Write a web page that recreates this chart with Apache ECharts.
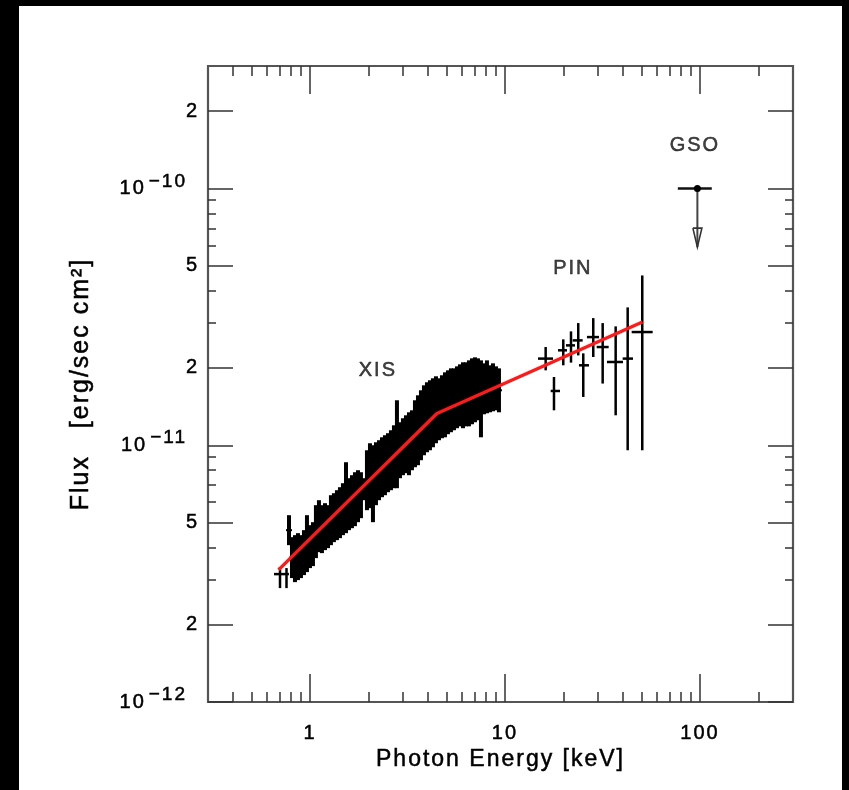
<!DOCTYPE html>
<html>
<head>
<meta charset="utf-8">
<title>Flux spectrum</title>
<script src="https://cdn.jsdelivr.net/npm/echarts@6/dist/echarts.min.js"></script>
<style>
html,body{margin:0;padding:0;background:#000;width:849px;height:790px;overflow:hidden;}
#main{position:absolute;left:19px;top:6px;width:823px;height:784px;background:#fff;}
</style>
</head>
<body>
<div id="main"></div>
<script>
// flux values are in units of 1e-12 erg/sec/cm2, energies in keV
var UNIT = 1e-12;

// XIS spectrum (bin centre, flux, lower / upper end of error bar)
var xisE = [0.7805,0.8085,0.8377,0.8679,0.8992,0.9316,0.9652,1.000,1.036,1.073,1.112,1.152,1.194,1.237,1.281,1.327,1.375,1.425,1.476,1.530,1.585,1.642,1.701,1.763,1.826,1.892,1.960,2.031,2.104,2.180,2.259,2.340,2.424,2.512,2.602,2.696,2.793,2.894,2.998,3.107,3.219,3.335,3.455,3.580,3.709,3.842,3.981,4.124,4.273,4.427,4.587,4.752,4.924,5.101,5.285,5.476,5.673,5.878,6.090,6.310,6.537,6.773,7.017,7.270,7.532,7.804,8.085,8.377,8.679,8.992,9.316];
var xisF = [4.670,3.650,3.617,3.683,3.683,3.817,4.137,4.028,4.119,4.608,4.840,4.712,4.818,4.818,5.107,5.223,5.341,5.462,5.636,6.248,5.894,6.028,6.164,6.334,6.389,6.742,7.308,7.609,7.083,7.746,7.993,8.211,8.360,8.550,8.744,9.021,10.09,9.561,9.867,10.09,10.14,10.46,11.09,11.44,11.96,12.51,12.85,13.08,13.38,13.75,13.81,14.12,14.38,14.70,14.97,15.10,15.38,15.65,15.65,15.79,15.93,16.23,16.44,16.51,15.17,16.59,16.89,16.59,16.81,16.67,16.37];
var xisLo = [4.082,3.038,2.930,2.984,3.038,3.121,3.206,3.323,3.383,3.634,3.834,3.800,3.904,3.974,4.082,4.194,4.270,4.347,4.465,4.546,4.670,4.753,4.840,5.016,5.200,6.109,5.586,5.688,5.016,5.842,6.109,6.276,6.389,6.563,6.682,6.803,6.803,7.441,7.644,7.783,7.644,7.993,8.211,8.360,8.744,9.142,9.392,9.561,9.822,10.18,10.46,10.65,10.74,11.04,11.24,11.44,11.65,11.85,11.65,11.85,11.85,12.07,12.29,12.51,10.74,13.20,13.32,13.44,13.56,13.68,13.44];
var xisHi = [5.341,4.385,4.465,4.546,4.465,4.670,5.341,4.883,5.016,5.842,6.109,5.842,5.948,5.842,6.389,6.504,6.682,6.864,7.115,8.588,7.441,7.644,7.851,7.993,7.851,7.441,9.561,10.18,10.00,10.27,10.46,10.74,10.94,11.14,11.44,11.96,14.97,12.29,12.74,13.08,13.44,13.68,14.97,15.65,16.37,17.12,17.59,17.91,18.23,18.56,18.23,18.73,19.23,19.58,19.93,19.93,20.29,20.66,21.04,21.04,21.41,21.80,22.00,21.80,21.41,20.85,21.41,20.48,20.85,20.29,19.93];

// the two lowest XIS bins, drawn as separate crosses
var xisLowE = [0.702, 0.758];
var xisLowElo = [0.654, 0.736];
var xisLowEhi = [0.736, 0.780];
var xisLowF = [3.149, 3.149];
var xisLowFlo = [2.777, 2.777];
var xisLowFhi = [3.353, 3.323];

// HXD-PIN
var pinE = [16.17,17.84,19.91,21.81,23.76,25.21,28.37,31.70,36.96,42.59,50.6];
var pinElo = [14.77,17.16,18.70,20.55,22.24,23.96,26.33,29.53,33.35,40.15,44.64];
var pinEhi = [17.63,19.15,20.80,22.86,25.03,26.97,30.35,34.03,40.29,45.34,57.21];
var pinF = [21.75,16.27,23.43,24.49,25.61,20.48,26.38,24.13,21.10,21.75,27.60];
var pinFlo = [19.58,13.68,20.48,20.98,22.39,15.42,22.06,17.39,13.08,9.56,9.56];
var pinFhi = [24.13,18.44,25.85,27.77,29.91,22.80,31.28,29.91,29.04,34.43,45.86];

// HXD-GSO upper limit: [E, Elo, Ehi, F, arrow tip]
var gsoLimit = [97, 77, 115, 100, 59.1];

// broken power law model
var modelE = [0.69, 4.48, 50.7];
var modelF = [3.27, 13.3, 30.2];

// labels of the instruments
var tagNames = ['XIS', 'PIN', 'GSO'];
var tagE = [2.23, 22.3, 94.2];
var tagF = [19.6, 48.8, 147];

// axis ticks
var xMajor = [1, 10, 100];
var xMinor = [0.4,0.5,0.6,0.7,0.8,0.9,2,3,4,5,6,7,8,9,20,30,40,50,60,70,80,90,200];
var yMajor = [1e-12,2e-12,5e-12,1e-11,2e-11,5e-11,1e-10,2e-10];
var yMinor = [3e-12,4e-12,6e-12,7e-12,8e-12,9e-12,3e-11,4e-11,6e-11,7e-11,8e-11,9e-11];

// loose lettering like the original plot package
var ctxProto = CanvasRenderingContext2D.prototype;
var rawFillText = ctxProto.fillText, rawStrokeText = ctxProto.strokeText;
ctxProto.fillText = function () {
	this.letterSpacing = '2px';
	return rawFillText.apply(this, arguments);
};
ctxProto.strokeText = function () {
	this.letterSpacing = '2px';
	return rawStrokeText.apply(this, arguments);
};

var lg = Math.log10;
var FONT = 'Liberation Sans';
var INK = '#000';
// a thin outline makes the lettering a bit heavier
var heavy = {textBorderColor: '#000', textBorderWidth: 0.5};
var xMin = lg(0.3), xMax = lg(300);
var yMin = lg(1e-12), yMax = lg(3e-10);

function xAxisDef(pos, ticks, len, withLabel) {
	var ax = {
		type: 'value', position: pos, min: xMin, max: xMax,
		axisLine: {show: false, onZero: false}, splitLine: {show: false},
		axisTick: {show: true, inside: true, length: len, customValues: ticks.map(lg),
			lineStyle: {color: '#333', width: 1.5}},
		axisLabel: {show: false}
	};
	if (withLabel) {
		ax.axisLabel = echarts.util.extend({show: true, customValues: ticks.map(lg), margin: 21,
			fontFamily: FONT, fontSize: 20, color: INK,
			formatter: function (v) { return String(Math.round(Math.pow(10, v))); }}, heavy);
		ax.name = 'Photon Energy [keV]';
		ax.nameLocation = 'middle';
		ax.nameGap = 46;
		ax.nameTextStyle = echarts.util.extend({fontFamily: FONT, fontSize: 23, color: INK}, heavy);
	}
	return ax;
}

function yLabel(v) {
	var e = Math.floor(v + 1e-9);
	var m = Math.round(Math.pow(10, v - e));
	return m === 1 ? '10{sup|\u2212' + (-e) + '}' : String(m);
}

function yAxisDef(pos, ticks, len, withLabel) {
	var ax = {
		type: 'value', position: pos, min: yMin, max: yMax,
		axisLine: {show: false, onZero: false}, splitLine: {show: false},
		axisTick: {show: true, inside: true, length: len, customValues: ticks.map(lg),
			lineStyle: {color: '#333', width: 1.5}},
		axisLabel: {show: false}
	};
	if (withLabel) {
		ax.axisLabel = echarts.util.extend({show: true, customValues: ticks.map(lg), margin: 9,
			fontFamily: FONT, fontSize: 20, color: INK, formatter: yLabel,
			rich: {sup: echarts.util.extend({fontFamily: FONT, fontSize: 19, color: INK, padding: [0, 12, 14, 9]}, heavy)}}, heavy);
		ax.name = 'Flux   [erg/sec cm\u00b2]';
		ax.nameLocation = 'middle';
		ax.nameRotate = 90;
		ax.nameGap = 114;
		ax.nameTextStyle = echarts.util.extend({fontFamily: FONT, fontSize: 25, color: INK}, heavy);
	}
	return ax;
}

// vertical error bar with a short horizontal stroke at the centre
function xisBar(params, api) {
	var c = api.coord([api.value(0), api.value(1)]);
	var lo = api.coord([api.value(0), api.value(2)]);
	var hi = api.coord([api.value(0), api.value(3)]);
	return {type: 'group', children: [
		{type: 'line', shape: {x1: c[0], y1: lo[1], x2: c[0], y2: hi[1]}, style: {stroke: '#000', lineWidth: 4}},
		{type: 'line', shape: {x1: c[0] - 3, y1: c[1], x2: c[0] + 3, y2: c[1]}, style: {stroke: '#000', lineWidth: 2}}
	]};
}

// full cross: [x, y, xlo, xhi, ylo, yhi]
function crossBar(params, api) {
	var x = api.value(0), y = api.value(1);
	var c = api.coord([x, y]);
	var xl = api.coord([api.value(2), y]), xh = api.coord([api.value(3), y]);
	var yl = api.coord([x, api.value(4)]), yh = api.coord([x, api.value(5)]);
	return {type: 'group', children: [
		{type: 'line', shape: {x1: xl[0], y1: c[1], x2: xh[0], y2: c[1]}, style: {stroke: '#000', lineWidth: 2.5}},
		{type: 'line', shape: {x1: c[0], y1: yl[1], x2: c[0], y2: yh[1]}, style: {stroke: '#000', lineWidth: 2.5}}
	]};
}

// upper limit with arrow
function limitBar(params, api) {
	var x = api.value(0), y = api.value(3);
	var c = api.coord([x, y]);
	var xl = api.coord([api.value(1), y]), xh = api.coord([api.value(2), y]);
	var tip = api.coord([x, api.value(4)]);
	return {type: 'group', children: [
		{type: 'line', shape: {x1: xl[0], y1: c[1], x2: xh[0], y2: c[1]}, style: {stroke: '#111', lineWidth: 2.4}},
		{type: 'line', shape: {x1: c[0], y1: c[1], x2: c[0], y2: tip[1]}, style: {stroke: '#444', lineWidth: 2}},
		{type: 'polyline', shape: {points: [[c[0] - 4.5, tip[1] - 19], [c[0], tip[1]], [c[0] + 4.5, tip[1] - 19], [c[0] - 4.5, tip[1] - 19]]},
			style: {fill: 'none', stroke: '#333', lineWidth: 1.6}},
		{type: 'circle', shape: {cx: c[0], cy: c[1], r: 3.5}, style: {fill: '#000'}}
	]};
}

var xisData = xisE.map(function (e, i) {
	return [lg(e), lg(xisF[i] * UNIT), lg(xisLo[i] * UNIT), lg(xisHi[i] * UNIT)];
});
var xisLowData = xisLowE.map(function (e, i) {
	return [lg(e), lg(xisLowF[i] * UNIT), lg(xisLowElo[i]), lg(xisLowEhi[i]), lg(xisLowFlo[i] * UNIT), lg(xisLowFhi[i] * UNIT)];
});
var pinData = pinE.map(function (e, i) {
	return [lg(e), lg(pinF[i] * UNIT), lg(pinElo[i]), lg(pinEhi[i]), lg(pinFlo[i] * UNIT), lg(pinFhi[i] * UNIT)];
});
var gsoData = [[lg(gsoLimit[0]), lg(gsoLimit[1]), lg(gsoLimit[2]), lg(gsoLimit[3] * UNIT), lg(gsoLimit[4] * UNIT)]];
var modelData = modelE.map(function (e, i) { return [lg(e), lg(modelF[i] * UNIT)]; });
var tagData = tagNames.map(function (n, i) { return {name: n, value: [lg(tagE[i]), lg(tagF[i] * UNIT)]}; });

var chart = echarts.init(document.getElementById('main'));
var option = {
	animation: false,
	backgroundColor: '#fff',
	grid: {left: 189, top: 60, right: 49, bottom: 88, show: true, borderColor: '#555', borderWidth: 2.2},
	xAxis: [
		xAxisDef('bottom', xMajor, 28, true),
		xAxisDef('bottom', xMinor, 10, false),
		xAxisDef('top', xMajor, 28, false),
		xAxisDef('top', xMinor, 10, false)
	],
	yAxis: [
		yAxisDef('left', yMajor, 25, true),
		yAxisDef('left', yMinor, 8, false),
		yAxisDef('right', yMajor, 25, false),
		yAxisDef('right', yMinor, 8, false)
	],
	series: [
		{type: 'custom', name: 'XIS', renderItem: xisBar, data: xisData, silent: true, z: 2},
		{type: 'custom', name: 'XIS low', renderItem: crossBar, data: xisLowData, silent: true, z: 2},
		{type: 'custom', name: 'PIN', renderItem: crossBar, data: pinData, silent: true, z: 2},
		{type: 'custom', name: 'GSO', renderItem: limitBar, data: gsoData, silent: true, z: 2},
		{type: 'line', name: 'model', data: modelData, symbol: 'none', silent: true, z: 3,
			lineStyle: {color: '#ff1a1a', width: 3.4}},
		{type: 'scatter', name: 'tags', data: tagData, symbolSize: 0, silent: true, z: 4,
			label: echarts.util.extend({show: true, position: 'inside', formatter: '{b}', fontFamily: FONT, fontSize: 20, color: '#111'}, heavy)}
	]
};
chart.setOption(option);
</script>
</body>
</html>
